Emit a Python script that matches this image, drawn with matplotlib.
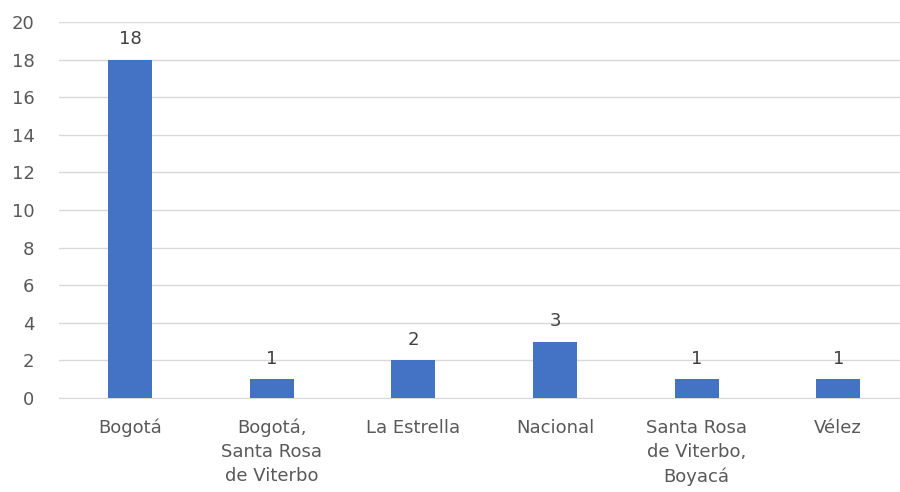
import matplotlib.pyplot as plt
import numpy as np

plt.rcParams['font.family'] = 'DejaVu Sans'

# Data
categories = ["Bogotá", "Bogotá,\nSanta Rosa\nde Viterbo", "La Estrella", "Nacional",
              "Santa Rosa\nde Viterbo,\nBoyacá", "Vélez"]
counts = [18, 1, 2, 3, 1, 1]

text_color = '#595959'
bar_color = '#4472C4'

fig = plt.figure(figsize=(9, 4.92), dpi=100)
ax = fig.add_axes([0.066, 0.191, 0.944, 0.764])

x = np.arange(len(categories))
bars = ax.bar(x, counts, width=0.31, color=bar_color, zorder=3)

for xi, v in zip(x, counts):
    ax.text(xi, v + 0.6, str(v), ha='center', va='bottom', fontsize=13, color='#404040')

ax.set_ylim(0, 20)
ax.set_yticks(range(0, 21, 2))
ax.set_xlim(-0.5, 5.5)
ax.set_xticks(x)
ax.set_xticklabels(categories, fontsize=13, color=text_color, linespacing=1.43)
ax.tick_params(axis='y', labelsize=13, labelcolor=text_color, length=0, pad=18)
ax.tick_params(axis='x', length=0, pad=15)

ax.grid(axis='y', color='#D9D9D9', linewidth=1, zorder=0)
for side in ['top', 'right', 'left']:
    ax.spines[side].set_visible(False)
ax.spines['bottom'].set_color('#D9D9D9')

fig.savefig('out.png', dpi=100)
